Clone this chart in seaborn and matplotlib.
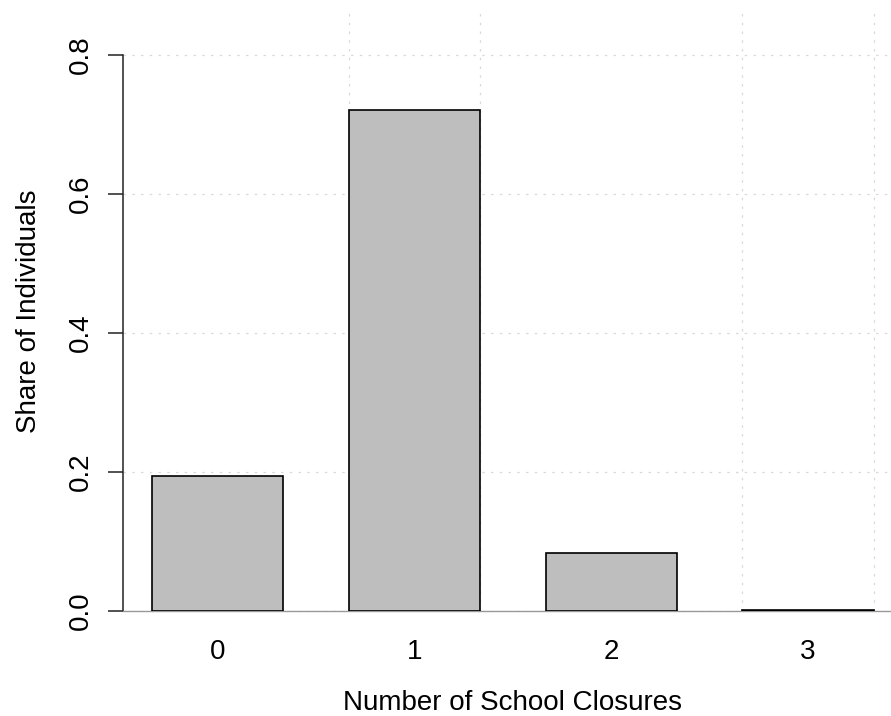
import numpy as np
import pandas as pd
import seaborn as sns
import matplotlib.pyplot as plt

# data
closures = ["0", "1", "2", "3"]
share = [0.194, 0.721, 0.083, 0.001]

sns.set_style("white")
plt.rcParams['font.family'] = ['Liberation Sans', 'DejaVu Sans']
plt.rcParams['text.color'] = 'black'
plt.rcParams['axes.labelcolor'] = 'black'
plt.rcParams['xtick.color'] = 'black'
plt.rcParams['ytick.color'] = 'black'

fig = plt.figure(figsize=(8.91, 7.16), dpi=100)
ax = fig.add_axes([0.1378, 0.1466, 0.8753, 0.8366])

df = pd.DataFrame({"closures": closures, "share": share})
sns.barplot(data=df, x="closures", y="share", color="#BEBEBE", saturation=1,
            edgecolor="black", linewidth=1.2, width=1 / 1.5, ax=ax, zorder=3)

# R style layout: bar width 1, space 0.5 -> grid at integer user coords
ax.set_xticks([(k - 1) / 1.5 for k in range(1, 7)], minor=True)
ax.set_yticks([0.0, 0.2, 0.4, 0.6, 0.8])
ax.set_yticklabels(["0.0", "0.2", "0.4", "0.6", "0.8"], rotation=90, va="center")
ax.set_xlim(-0.48, 3.48)
ax.set_ylim(0, 0.862)

ax.grid(axis="x", which="minor", color="#d9d9d9", linestyle=(0, (2, 5)), linewidth=0.9)
ax.grid(axis="y", which="major", color="#d9d9d9", linestyle=(0, (2, 5)), linewidth=0.9)
ax.set_axisbelow(True)

for s in ["top", "right"]:
    ax.spines[s].set_visible(False)
ax.spines["left"].set_bounds(0, 0.8)
ax.spines["left"].set_color("#222222")
ax.spines["left"].set_linewidth(1.1)
ax.spines["bottom"].set_color("#999999")
ax.spines["bottom"].set_linewidth(1.0)

ax.tick_params(axis="x", which="both", length=0, pad=20, labelsize=20)
ax.tick_params(axis="y", which="major", length=10.8, width=1.1, color="#222222",
               left=True, pad=10, labelsize=20)

ax.set_xlabel("Number of School Closures", fontsize=20, labelpad=18)
ax.set_ylabel("Share of Individuals", fontsize=20, labelpad=19)

fig.savefig("out.png", dpi=100)
